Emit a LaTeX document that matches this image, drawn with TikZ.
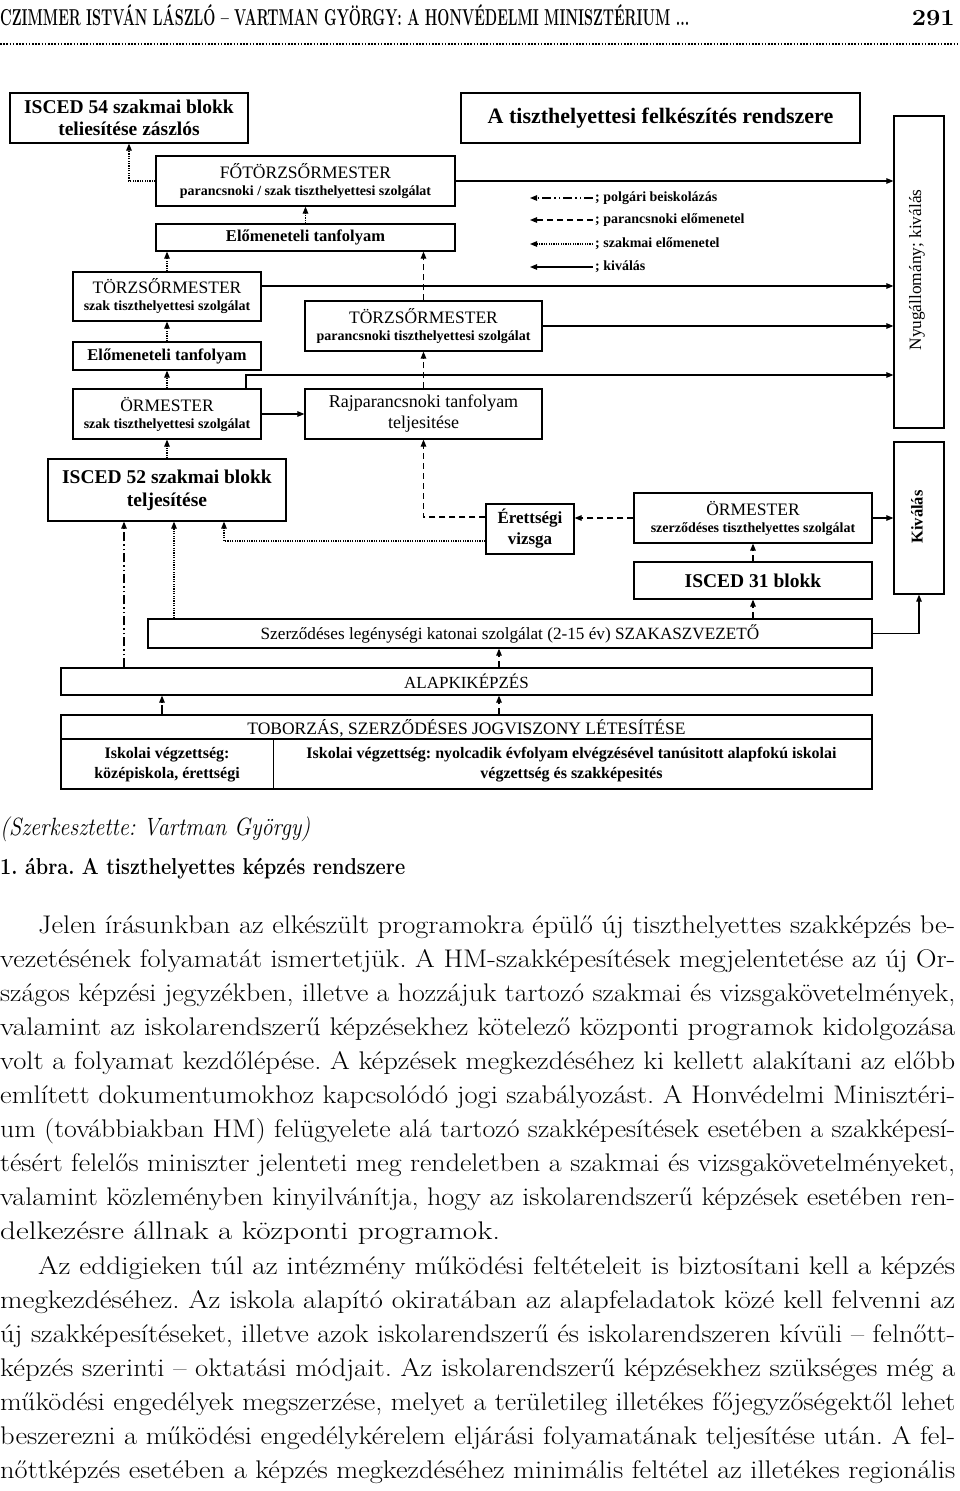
\documentclass[tikz,border=0pt]{standalone}
\usepackage{fontspec}
\usepackage{graphicx}
\usetikzlibrary{arrows.meta}
\newfontfamily\tnr{Liberation Serif}
\newcommand\fsz[2]{\fontsize{#1}{#2}\selectfont}
\newcommand\jl[2]{\resizebox{#1pt}{\height}{#2}}
\frenchspacing
\begin{document}
\begin{tikzpicture}[x=1pt,y=-1pt,
  box/.style={draw, line width=1.2pt, inner sep=0pt, align=center, font=\tnr},
  con/.style={line width=1.1pt, -{Triangle[length=7pt,width=5.5pt]}},
  pdash/.style={dash pattern=on 6pt off 4pt},
  sdot/.style={dash pattern=on 1.2pt off 1.2pt},
  pdd/.style={dash pattern=on 9pt off 3pt on 1.5pt off 3pt on 1.5pt off 3pt},
  body/.style={anchor=base west, inner sep=0pt, font=\frenchspacing\fsz{25.5}{34}},
  leg/.style={anchor=west, inner sep=0pt, font=\tnr\bfseries\fsz{14}{16}},
  celltext/.style={inner sep=0pt, align=center, font=\tnr\bfseries\fsz{16}{20}}]
\fill[white] (0,0) rectangle (960,1491);
\useasboundingbox (0,0) rectangle (960,1491);

% ---------- header ----------
\node[anchor=base west, inner sep=0pt, font=\bfseries\fsz{23}{26}] (hdr) at (0,25.5)
  {\jl{689}{CZIMMER ISTVÁN LÁSZLÓ – VARTMAN GYÖRGY: A HONVÉDELMI MINISZTÉRIUM ...}};
\node[anchor=base east, inner sep=0pt, font=\bfseries\fsz{23}{26}] (pg) at (955,25.5) {\jl{43}{291}};
\draw[line width=2pt, dash pattern=on 1.5pt off 1.7pt] (0,44) -- (957,44);

% ---------- boxes ----------
\node[box,minimum width=238,minimum height=50,font=\tnr\bfseries\fsz{19.5}{22}] (isced54) at (129,118)
  {ISCED 54 szakmai blokk\\teliesítése zászlós};
\node[box,minimum width=399,minimum height=50,font=\tnr\bfseries\fsz{22}{24}] (title) at (660.5,118)
  {A tiszthelyettesi felkészítés rendszere};
\node[box,minimum width=299,minimum height=50] (fotorzs) at (305.5,181)
  {\fsz{17.5}{19}FŐTÖRZSŐRMESTER\\[5pt]\bfseries\fsz{14}{18}parancsnoki / szak tiszthelyettesi szolgálat};
\node[box,minimum width=299,minimum height=27,font=\tnr\bfseries\fsz{16.5}{18}] (elomen1) at (305.5,237.5)
  {Előmeneteli tanfolyam};
\node[box,minimum width=188,minimum height=49] (torzsszak) at (167,296.5)
  {\fsz{17.5}{19}TÖRZSŐRMESTER\\[5pt]\bfseries\fsz{14}{18}szak tiszthelyettesi szolgálat};
\node[box,minimum width=237,minimum height=50] (torzspar) at (423.5,326)
  {\fsz{17.5}{19}TÖRZSŐRMESTER\\[5pt]\bfseries\fsz{14}{18}parancsnoki tiszthelyettesi szolgálat};
\node[box,minimum width=188,minimum height=28,font=\tnr\bfseries\fsz{16.5}{18}] (elomen2) at (167,356)
  {Előmeneteli tanfolyam};
\node[box,minimum width=188,minimum height=50] (ormszak) at (167,414)
  {\fsz{17.5}{19}ÖRMESTER\\[5pt]\bfseries\fsz{14}{18}szak tiszthelyettesi szolgálat};
\node[box,minimum width=237,minimum height=50,font=\tnr\fsz{18}{21}] (rajpar) at (423.5,414)
  {Rajparancsnoki tanfolyam\\teljesitése};
\node[box,minimum width=238,minimum height=62,font=\tnr\bfseries\fsz{19.5}{23}] (isced52) at (167,490)
  {ISCED 52 szakmai blokk\\teljesítése};
\node[box,minimum width=88,minimum height=50,font=\tnr\bfseries\fsz{17}{21}] (erettsegi) at (530,529)
  {Érettségi\\vizsga};
\node[box,minimum width=238,minimum height=50] (ormszerz) at (753,518)
  {\fsz{17.5}{19}ÖRMESTER\\[5pt]\bfseries\fsz{14}{18}szerződéses tiszthelyettes szolgálat};
\node[box,minimum width=238,minimum height=37,font=\tnr\bfseries\fsz{19.5}{22}] (isced31) at (753,580.5)
  {ISCED 31 blokk};
\node[box,minimum width=724,minimum height=29,font=\tnr\fsz{17.2}{19}] (szerz) at (510,633.5)
  {Szerződéses legénységi katonai szolgálat (2-15 év) SZAKASZVEZETŐ};
\node[box,minimum width=811,minimum height=27,font=\tnr\fsz{17}{19}] (alap) at (466.5,681.5)
  {ALAPKIKÉPZÉS};
\node[box,minimum width=811,minimum height=74] (tobor) at (466.5,752) {};
\node[inner sep=0pt, font=\tnr\fsz{17.5}{19}] (toborT) at (466.5,728)
  {TOBORZÁS, SZERZŐDÉSES JOGVISZONY LÉTESÍTÉSE};
\coordinate (tl) at (61,739);
\coordinate (tr) at (872,739);
\coordinate (dtop) at (273,739);
\coordinate (dbot) at (273,789);
\draw[line width=1.2pt] (tl) -- (tr);
\draw[line width=1pt] (dtop) -- (dbot);
\node[celltext] (cellL) at (167,765) {Iskolai végzettség:\\középiskola, érettségi};
\node[celltext] (cellR) at (571.5,765)
  {Iskolai végzettség: nyolcadik évfolyam elvégzésével tanúsitott alapfokú iskolai\\végzettség és szakképesités};

\node[box,minimum width=50,minimum height=312] (nyug) at (919,272) {};
\node[rotate=90, inner sep=0pt, font=\tnr\fsz{17.3}{19}] (nyugT) at (917,270) {Nyugállomány; kiválás};
\node[box,minimum width=50,minimum height=152] (kival) at (919,518) {};
\node[rotate=90, inner sep=0pt, font=\tnr\bfseries\fsz{16.5}{18}] (kivalT) at (917,517) {Kiválás};

% ---------- connectors ----------
\draw[con] (fotorzs.east) -- (fotorzs.east -| nyug.west);
\coordinate (tsR) at ([yshift=10.5pt]torzsszak.east);
\coordinate (tsN) at (tsR -| nyug.west);
\draw[con] (tsR) -- (tsN);
\draw[con] (torzspar.east) -- (torzspar.east -| nyug.west);
\coordinate (osT) at ([xshift=79pt]ormszak.north);
\coordinate (osK) at (246,375);
\draw[con] (osT) -- (osK) -- (osK -| nyug.west);
\draw[con] (ormszak.east) -- (rajpar.west);
\draw[con] (ormszerz.east) -- (kival.west);
\draw[con] (szerz.east) -| (kival.south);
\draw[con,pdash] (isced31.north) -- (ormszerz.south);
\draw[con,pdash] (isced31.south |- szerz.north) -- (isced31.south);
\draw[con,pdash] (ormszerz.west) -- (ormszerz.west -| erettsegi.east);
\coordinate (eW1) at ([yshift=12pt]erettsegi.west);
\draw[con,pdash] (eW1) -| (rajpar.south);
\coordinate (eW2) at ([yshift=-12pt]erettsegi.west);
\coordinate (i52c) at ([xshift=57pt]isced52.south);
\draw[con,sdot] (eW2) -| (i52c);
\draw[con,pdash] (rajpar.north) -- (torzspar.south);
\draw[con,pdash] (torzspar.north) -- (torzspar.north |- elomen1.south);
\draw[con,sdot] (elomen1.north) -- (fotorzs.south);
\draw[con,sdot] (fotorzs.west) -| (isced54.south);
\draw[con,sdot] (torzsszak.north) -- (torzsszak.north |- elomen1.south);
\draw[con,sdot] (elomen2.north) -- (torzsszak.south);
\draw[con,sdot] (ormszak.north) -- (elomen2.south);
\draw[con,sdot] (isced52.north) -- (ormszak.south);
\coordinate (x124) at ([xshift=-43pt]isced52.south);
\draw[con,pdd] (x124 |- alap.north) -- (x124);
\coordinate (x174) at ([xshift=7pt]isced52.south);
\draw[con,sdot] (x174 |- szerz.north) -- (x174);
\coordinate (sz499) at ([xshift=-11pt]szerz.south);
\draw[con,pdash] (sz499 |- alap.north) -- (sz499);
\coordinate (al499) at ([xshift=32.5pt]alap.south);
\draw[con,pdash] (al499 |- tobor.north) -- (al499);
\coordinate (al162) at ([xshift=-304.5pt]alap.south);
\draw[con,pdd] (al162 |- tobor.north) -- (al162);

% ---------- legend ----------
\node[leg] (lgt1) at (595,198) {; polgári beiskolázás};
\node[leg] (lgt2) at (595,220) {; parancsnoki előmenetel};
\node[leg] (lgt3) at (595,244) {; szakmai előmenetel};
\node[leg] (lgt4) at (595,267) {; kiválás};
\coordinate (lg1) at (530,198);
\coordinate (lg2) at (530,220);
\coordinate (lg3) at (530,244);
\coordinate (lg4) at (530,267);
\draw[con,pdd] ([xshift=-2pt]lgt1.west) -- (lg1);
\draw[con,pdash] ([xshift=-2pt]lgt2.west) -- (lg2);
\draw[con,sdot] ([xshift=-2pt]lgt3.west) -- (lg3);
\draw[con] ([xshift=-2pt]lgt4.west) -- (lg4);

% ---------- caption ----------
\node[anchor=base west, inner sep=0pt, font=\itshape\fsz{25}{26}] (src) at (0,835)
  {\jl{310}{(Szerkesztette: Vartman György)}};
\node[anchor=base west, inner sep=0pt, font=\bfseries\fsz{23}{26}] (cap) at (0,874)
  {\jl{405}{1. ábra. A tiszthelyettes képzés rendszere}};

% ---------- body text ----------
\node[body] (b1) at (38,933) {\jl{917}{Jelen írásunkban az elkészült programokra épülő új tiszthelyettes szakképzés be-}};
\node[body] (b2) at (0,967.1) {\jl{955}{vezetésének folyamatát ismertetjük. A HM-szakképesítések megjelentetése az új Or-}};
\node[body] (b3) at (0,1001.2) {\jl{955}{szágos képzési jegyzékben, illetve a hozzájuk tartozó szakmai és vizsgakövetelmények,}};
\node[body] (b4) at (0,1035.3) {\jl{955}{valamint az iskolarendszerű képzésekhez kötelező központi programok kidolgozása}};
\node[body] (b5) at (0,1069.4) {\jl{955}{volt a folyamat kezdőlépése. A képzések megkezdéséhez ki kellett alakítani az előbb}};
\node[body] (b6) at (0,1103.5) {\jl{955}{említett dokumentumokhoz kapcsolódó jogi szabályozást. A Honvédelmi Minisztéri-}};
\node[body] (b7) at (0,1137.6) {\jl{955}{um (továbbiakban HM) felügyelete alá tartozó szakképesítések esetében a szakképesí-}};
\node[body] (b8) at (0,1171.7) {\jl{955}{tésért felelős miniszter jelenteti meg rendeletben a szakmai és vizsgakövetelményeket,}};
\node[body] (b9) at (0,1205.8) {\jl{955}{valamint közleményben kinyilvánítja, hogy az iskolarendszerű képzések esetében ren-}};
\node[body] (b10) at (0,1239.9) {\jl{500}{delkezésre állnak a központi programok.}};
\node[body] (b11) at (38,1274) {\jl{917}{Az eddigieken túl az intézmény működési feltételeit is biztosítani kell a képzés}};
\node[body] (b12) at (0,1308.1) {\jl{955}{megkezdéséhez. Az iskola alapító okiratában az alapfeladatok közé kell felvenni az}};
\node[body] (b13) at (0,1342.2) {\jl{955}{új szakképesítéseket, illetve azok iskolarendszerű és iskolarendszeren kívüli – felnőtt-}};
\node[body] (b14) at (0,1376.3) {\jl{955}{képzés szerinti – oktatási módjait. Az iskolarendszerű képzésekhez szükséges még a}};
\node[body] (b15) at (0,1410.4) {\jl{955}{működési engedélyek megszerzése, melyet a területileg illetékes főjegyzőségektől lehet}};
\node[body] (b16) at (0,1444.5) {\jl{955}{beszerezni a működési engedélykérelem eljárási folyamatának teljesítése után. A fel-}};
\node[body] (b17) at (0,1478.6) {\jl{955}{nőttképzés esetében a képzés megkezdéséhez minimális feltétel az illetékes regionális}};
\end{tikzpicture}
\end{document}
